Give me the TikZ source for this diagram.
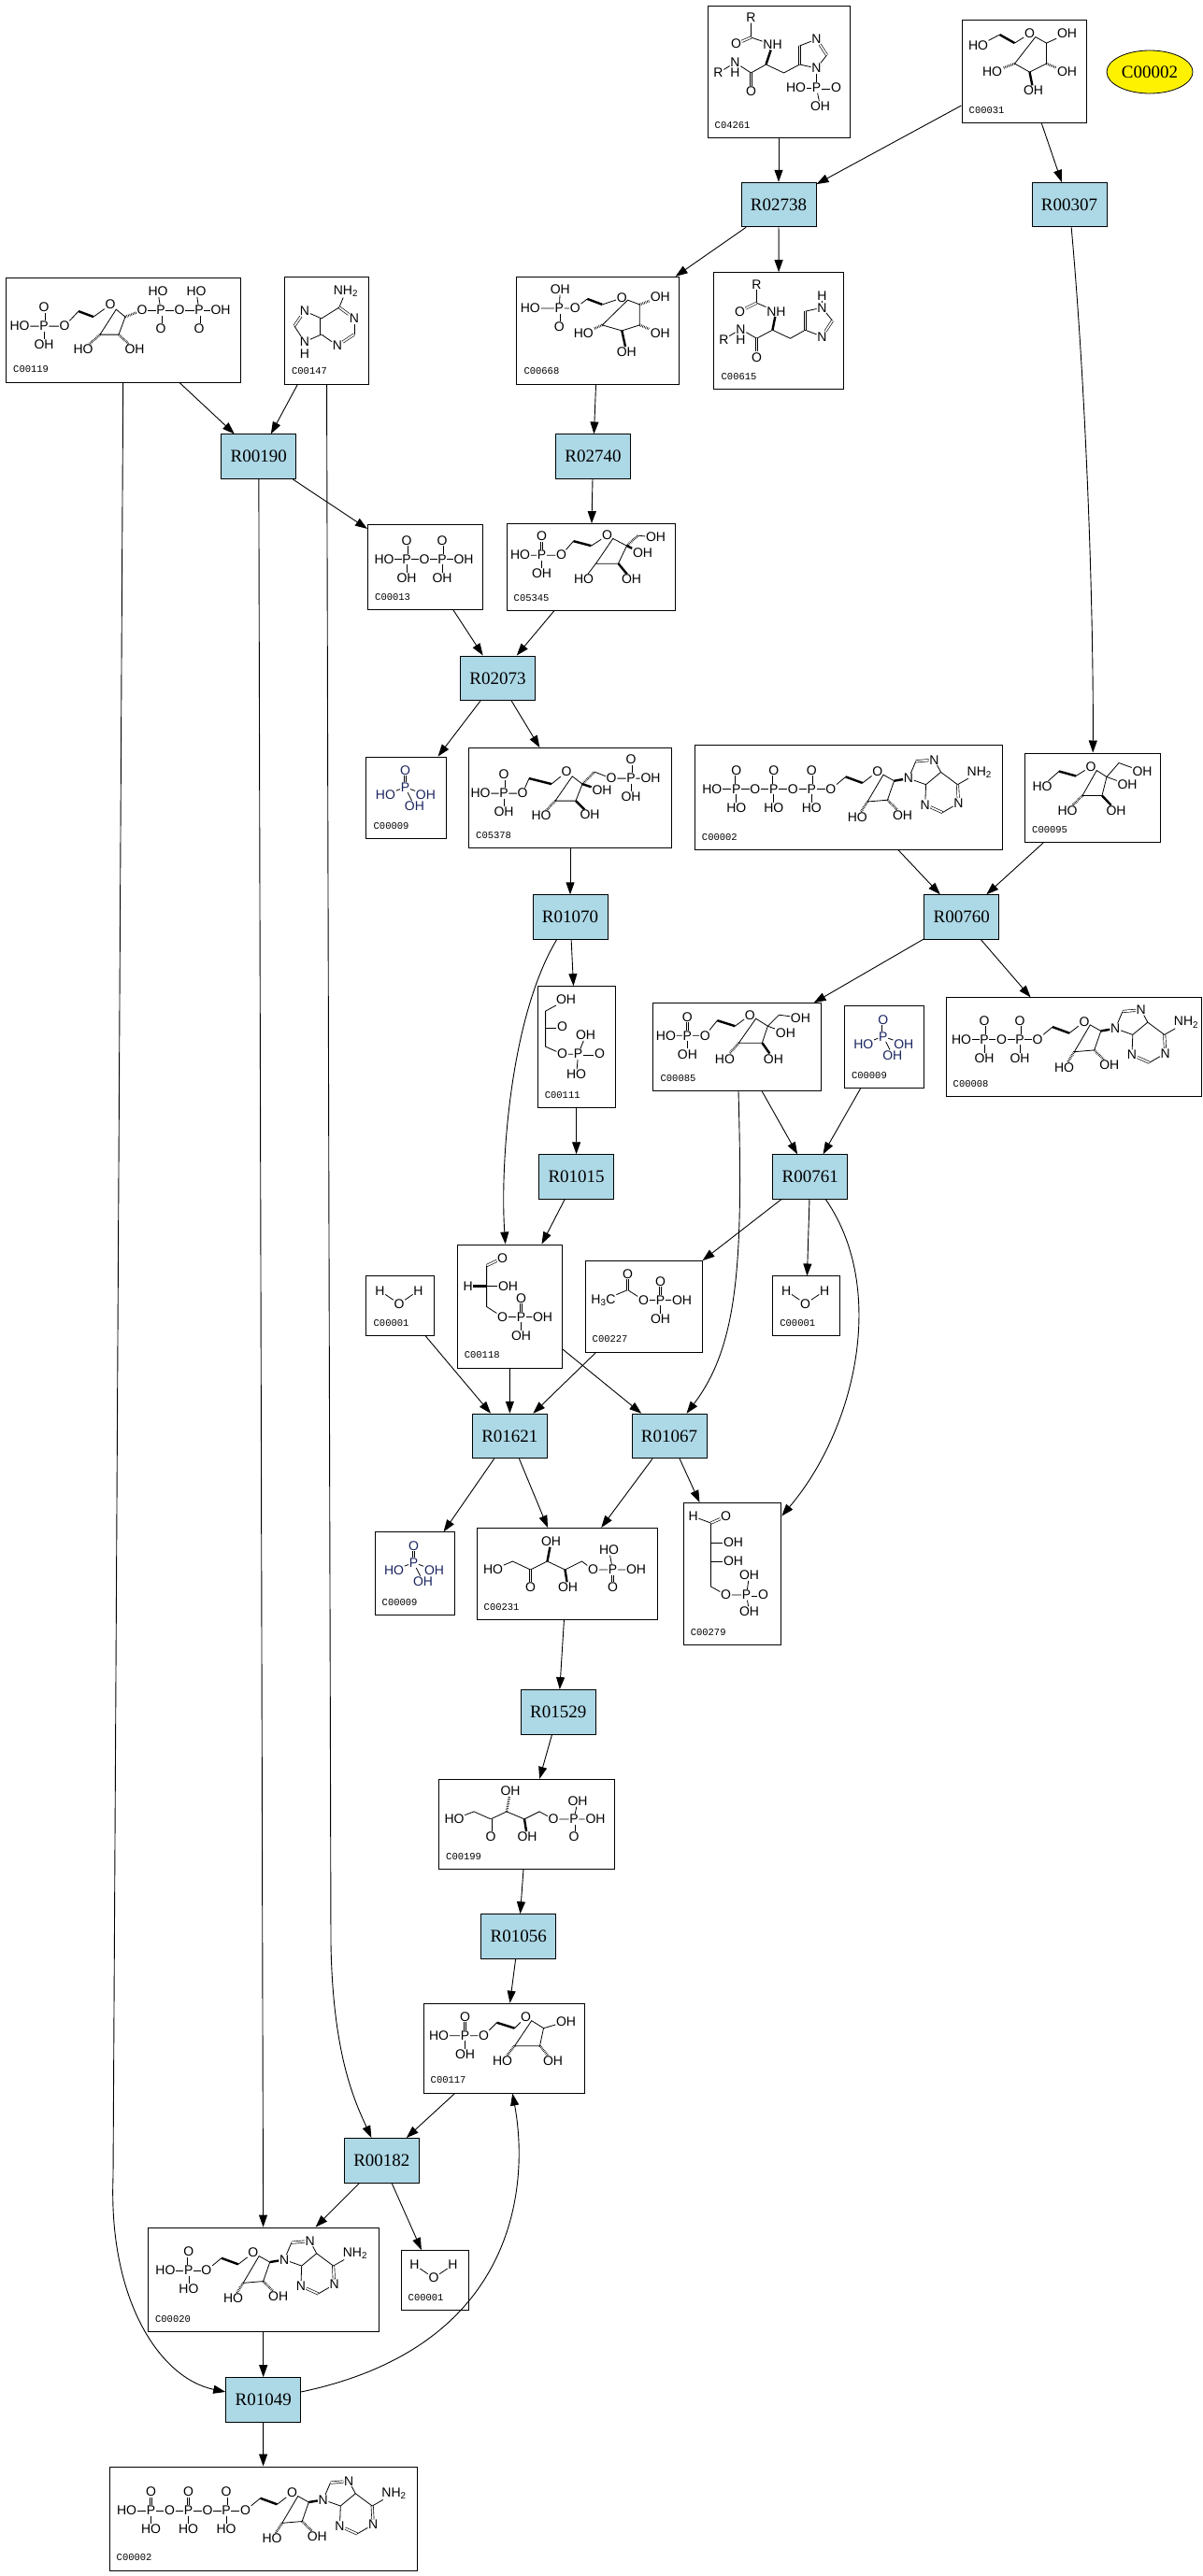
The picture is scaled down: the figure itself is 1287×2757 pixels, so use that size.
\documentclass[tikz,border=0pt]{standalone}
\usepackage{fontspec}
\setmainfont{Liberation Serif}
\setsansfont{Liberation Sans}
\setmonofont{Liberation Mono}
\usepackage{tikz}
\usetikzlibrary{positioning}
\usetikzlibrary{shapes,arrows.meta}
\definecolor{rxnblue}{RGB}{173,216,230}
\definecolor{navy}{RGB}{25,35,95}
\tikzstyle{rxn} = [rectangle, draw, fill=rxnblue, line width=1pt,
    minimum width=80pt, minimum height=47.5pt, inner sep=0pt, font=\fontsize{19}{19}\selectfont]
\tikzstyle{cpd} = [rectangle, draw, fill=white, line width=1pt, inner sep=0pt]
\tikzstyle{cid} = [anchor=west, inner sep=0pt, font=\ttfamily\fontsize{10.5}{10.5}\selectfont]
\tikzstyle{atm} = [inner sep=0.4pt, font=\sffamily\fontsize{14}{14}\selectfont]
\tikzstyle{mol} = [line width=0.8pt]
\tikzstyle{dbl} = [double, double distance=1.7pt, line width=0.65pt]
\tikzstyle{wedge} = [line width=2.4pt]
\tikzstyle{hash} = [line width=2.6pt, dash pattern=on 0.6pt off 1.1pt]
\tikzstyle{line} = [draw, line width=0.9pt, -{Triangle[length=13pt,width=9pt]}]
% compound box with its id
\newcommand\Cpd[6]{\node [cpd, minimum width=#4pt, minimum height=#5pt] (#1) at (#2,#3) {};
  \node [cid] at ([shift={(8pt,14pt)}]#1.south west) {#6};}
% P with =O above and a group below
\newcommand\Ph[4]{\path (#2,#3) node[atm] (#1) {P} (#2,#3-20) node[atm] (#1u) {O}
  (#2,#3+20) node[atm] (#1d) {#4};
  \draw[dbl] (#1) -- (#1u); \draw (#1) -- (#1d);}
% ribose + adenine from the 5'-O
\newcommand\Nuc[2]{\begin{scope}[shift={(#1,#2)}]
  \path (0,0) node[atm] (o5) {O} (50,-19) node[atm] (or) {O}
    (28.6,30) node[atm] (h3) {HO} (76.8,27.5) node[atm] (h2) {OH}
    (83.2,-11.6) node[atm] (n9) {N} (110.7,-31.5) node[atm] (n7) {N}
    (101,16.5) node[atm] (n3) {N} (136.7,14.9) node[atm] (n1) {N}
    (159,-18.3) node[atm] (nh) {NH\textsubscript{2}};
  \draw (o5) -- (16,-13.3); \draw[wedge] (16,-13.3) -- (34,-6.7);
  \draw (34,-6.7) -- (or) -- (67.8,-9) -- (60.7,11.5) -- (39.3,13.3) -- cycle;
  \draw[hash] (39.3,13.3) -- (h3); \draw[hash] (60.7,11.5) -- (h2);
  \draw[wedge] (67.8,-9) -- (n9);
  \draw (n9) -- (91,-29.9); \draw[dbl] (91,-29.9) -- (n7);
  \draw (n7) -- (117.8,-18.3) -- (101.8,-5) -- (n9);
  \draw (101.8,-5) -- (n3); \draw[dbl] (n3) -- (119.6,24.9); \draw (119.6,24.9) -- (n1);
  \draw[dbl] (n1) -- (135.7,-5); \draw (135.7,-5) -- (117.8,-18.3); \draw (135.7,-5) -- (nh);
  \end{scope}}
\newcommand\Atp{\Ph{p1}{45}{47.5}{HO} \Ph{p2}{85}{47.5}{HO} \Ph{p3}{125.5}{47.5}{HO}
  \path (19,47.5) node[atm] (a1) {HO} (65,47.5) node[atm] (a2) {O} (105.5,47.5) node[atm] (a3) {O};
  \Nuc{146}{47.5}
  \draw (a1) -- (p1) -- (a2) -- (p2) -- (a3) -- (p3) -- (o5);}
\newcommand\Pho{\path (42,15) node[atm, text=navy] (a1) {O} (42,33) node[atm, text=navy] (a2) {P}
  (21,41) node[atm, text=navy] (a3) {HO} (64,41) node[atm, text=navy] (a4) {OH}
  (52,53) node[atm, text=navy] (a5) {OH};
  \draw[dbl] (a2) -- (a1); \draw (a3) -- (a2) -- (a4); \draw (a2) -- (a5);}
\newcommand\Wat{\path (15,16) node[atm] (a1) {H} (35.5,30) node[atm] (a2) {O} (56,16) node[atm] (a3) {H};
  \draw (a1) -- (a2) -- (a3);}

\begin{document}
\begin{tikzpicture}[x=1pt, y=-1pt, node distance=3cm, auto]
  \useasboundingbox (0,0) rectangle (1287,2757);
  % compounds
  \Cpd{c04261}{833}{77}{152}{141}{C04261}
  \Cpd{c00031}{1095.5}{76.6}{133}{110}{C00031}
  \Cpd{c00119}{132}{353.3}{251}{111.4}{C00119}
  \Cpd{c00147}{349.4}{353.7}{90}{114.6}{C00147}
  \Cpd{c00668}{639.8}{353.7}{174}{114.6}{C00668}
  \Cpd{c00615}{833.2}{354.2}{138.5}{125}{C00615}
  \Cpd{c00013}{455}{607}{123}{90.4}{C00013}
  \Cpd{c05345}{632}{607}{180}{92.7}{C05345}
  \Cpd{c00009a}{434.8}{853.8}{85.7}{87.5}{C00009}
  \Cpd{c05378}{610}{854}{217}{106.8}{C05378}
  \Cpd{c00002a}{908}{853.5}{329.5}{111.6}{C00002}
  \Cpd{c00095}{1169}{853.8}{145}{95.6}{C00095}
  \Cpd{c00111}{616.6}{1120.5}{83}{129.7}{C00111}
  \Cpd{c00085}{788.7}{1120.7}{179.6}{94}{C00085}
  \Cpd{c00009b}{945.8}{1120.7}{85}{88}{C00009}
  \Cpd{c00008}{1148.5}{1120.7}{273}{105.6}{C00008}
  \Cpd{c00118}{545.3}{1398}{112.4}{132}{C00118}
  \Cpd{c00001a}{428.2}{1397.7}{72.5}{63.5}{C00001}
  \Cpd{c00227}{688.5}{1398}{125}{98}{C00227}
  \Cpd{c00001b}{862.5}{1397.7}{71.7}{63.5}{C00001}
  \Cpd{c00009c}{443.5}{1684.4}{85}{89}{C00009}
  \Cpd{c00231}{606.5}{1684.5}{193}{98}{C00231}
  \Cpd{c00279}{783.4}{1684.5}{104.7}{152}{C00279}
  \Cpd{c00199}{563.5}{1952.3}{188}{95.8}{C00199}
  \Cpd{c00117}{539.2}{2192.1}{172.4}{95.8}{C00117}
  \Cpd{c00020}{281.7}{2439.9}{246.6}{111.7}{C00020}
  \Cpd{c00001c}{465.3}{2440.5}{72.6}{64}{C00001}
  \Cpd{c00002b}{281.5}{2695.5}{329}{111}{C00002}
  \node [draw, ellipse, fill=yellow, line width=0.8pt, minimum width=92pt, minimum height=46pt,
    inner sep=0pt, font=\fontsize{19}{19}\selectfont] (C00002) at (1230,77) {C00002};
  % reactions
  \node [rxn, below of=c04261, node distance=142pt] (R02738) {R02738};
  \node [rxn] (R00307) at (1144,219.2) {R00307};
  \node [rxn] (R00190) at (276.8,488.7) {R00190};
  \node [rxn] (R02740) at (634.5,488.7) {R02740};
  \node [rxn] (R02073) at (532.5,725.8) {R02073};
  \node [rxn] (R01070) at (610,981.6) {R01070};
  \node [rxn] (R00760) at (1028.7,981.6) {R00760};
  \node [rxn, below of=c00111, node distance=139pt] (R01015) {R01015};
  \node [rxn] (R00761) at (866.7,1259.6) {R00761};
  \node [rxn] (R01621) at (545.4,1537) {R01621};
  \node [rxn] (R01067) at (716,1537) {R01067};
  \node [rxn] (R01529) at (597.3,1832.3) {R01529};
  \node [rxn] (R01056) at (554.8,2072.5) {R01056};
  \node [rxn] (R00182) at (408.4,2312.3) {R00182};
  \node [rxn, below of=c00020, node distance=128.5pt] (R01049) {R01049};
  % structures
  \begin{scope}[mol, shift={(c04261.north west)}]
    \path (47,13) node[atm] (a1) {R} (31,41) node[atm] (a2) {O} (70,42) node[atm] (a3) {NH}
      (30,61) node[atm] (a4) {N} (30,72) node[atm] (a5) {H} (12,72) node[atm] (a6) {R}
      (47,92) node[atm] (a7) {O} (117,36) node[atm] (a8) {N} (117,67) node[atm] (a9) {N}
      (117,88) node[atm] (a10) {P} (95,88) node[atm] (a11) {HO} (138,88) node[atm] (a12) {O}
      (121,108) node[atm] (a13) {OH};
    \draw (a1) -- (47,34) -- (a3); \draw[dbl] (47,34) -- (a2);
    \draw[wedge] (a3) -- (63,63);
    \draw (63,63) -- (82,72) -- (99,63) -- (a9) -- (128,53);
    \draw[dbl] (128,53) -- (a8); \draw (a8) -- (99,43); \draw[dbl] (99,43) -- (99,63);
    \draw (63,63) -- (47,72) -- (a4) -- (a6); \draw[dbl] (47,72) -- (a7);
    \draw (a9) -- (a10) -- (a11); \draw[dbl] (a10) -- (a12); \draw (a10) -- (a13);
  \end{scope}
  \begin{scope}[mol, shift={(c00615.north west)}]
    \path (46,13) node[atm] (a1) {R} (28,42) node[atm] (a2) {O} (67,42) node[atm] (a3) {NH}
      (29,61) node[atm] (a4) {N} (29,72) node[atm] (a5) {H} (11,72) node[atm] (a6) {R}
      (46,91) node[atm] (a7) {O} (116,38) node[atm] (a8) {N} (116,25) node[atm] (a9) {H}
      (116,69) node[atm] (a10) {N};
    \draw (a1) -- (46,33) -- (a3); \draw[dbl] (46,33) -- (a2);
    \draw[wedge] (a3) -- (63,62);
    \draw (63,62) -- (82,71) -- (98,62) -- (a10); \draw[dbl] (a10) -- (127,52);
    \draw (127,52) -- (a8) -- (98,42); \draw[dbl] (98,42) -- (98,62); \draw (a8) -- (a9);
    \draw (63,62) -- (46,71) -- (a4) -- (a6); \draw[dbl] (46,71) -- (a7);
  \end{scope}
  \begin{scope}[mol, shift={(c00031.north west)}]
    \path (73,15) node[atm] (a1) {O} (18,28) node[atm] (a2) {HO} (113,15) node[atm] (a3) {OH}
      (33,56) node[atm] (a4) {HO} (113,56) node[atm] (a5) {OH} (77,76) node[atm] (a6) {OH};
    \draw (57,25) -- (a1) -- (91,25) -- (91,47) -- (73,56) -- (57,47) -- cycle;
    \draw[wedge] (57,25) -- (41,16); \draw (41,16) -- (a2); \draw (91,25) -- (a3);
    \draw[hash] (57,47) -- (a4); \draw[hash] (91,47) -- (a5); \draw[wedge] (73,56) -- (a6);
  \end{scope}
  \begin{scope}[mol, shift={(c00668.north west)}]
    \path (46,34) node[atm] (a1) {P} (47,14) node[atm] (a2) {OH} (15,34) node[atm] (a3) {HO}
      (46,54) node[atm] (a4) {O} (63,34) node[atm] (a5) {O} (113,23) node[atm] (a6) {O}
      (154,22) node[atm] (a7) {OH} (72,61) node[atm] (a8) {HO} (154,61) node[atm] (a9) {OH}
      (118,81) node[atm] (a10) {OH};
    \draw (a3) -- (a1) -- (a5) -- (76,24); \draw[wedge] (76,24) -- (92,30);
    \draw (a1) -- (a2); \draw[dbl] (a1) -- (a4);
    \draw (92,30) -- (a6) -- (132,30) -- (132,52) -- (113,58) -- (92,52) -- cycle;
    \draw[hash] (132,30) -- (a7); \draw[hash] (92,52) -- (a8); \draw[hash] (132,52) -- (a9);
    \draw[wedge] (113,58) -- (a10);
  \end{scope}
  \begin{scope}[mol, shift={(c00119.north west)}]
    \Ph{p1}{41}{52}{OH}
    \path (15,52) node[atm] (a1) {HO} (63,52) node[atm] (a2) {O} (112,29) node[atm] (a3) {O}
      (83,77) node[atm] (a4) {HO} (138,77) node[atm] (a5) {OH} (146,35) node[atm] (a6) {O}
      (166,35) node[atm] (b1) {P} (163,15) node[atm] (b2) {HO} (166,55) node[atm] (b3) {O}
      (186,35) node[atm] (a7) {O} (207,35) node[atm] (c1) {P} (204,15) node[atm] (c2) {HO}
      (207,55) node[atm] (c3) {O} (230,35) node[atm] (a8) {OH};
    \draw (a1) -- (p1) -- (a2) -- (78,36); \draw[wedge] (78,36) -- (94,42);
    \draw (94,42) -- (a3) -- (128,42) -- (121,61) -- (101,61) -- cycle;
    \draw[hash] (101,61) -- (a4); \draw[hash] (121,61) -- (a5); \draw[hash] (128,42) -- (a6);
    \draw (a6) -- (b1) -- (a7) -- (c1) -- (a8); \draw (b1) -- (b2); \draw (c1) -- (c2);
    \draw[dbl] (b1) -- (b3); \draw[dbl] (c1) -- (c3);
  \end{scope}
  \begin{scope}[mol, shift={(c00147.north west)}]
    \path (66,16) node[atm] (a1) {NH\textsubscript{2}} (75,45) node[atm] (a2) {N}
      (57,74) node[atm] (a3) {N} (22,37) node[atm] (a4) {N} (22,70) node[atm] (a5) {N}
      (22,83) node[atm] (a6) {H};
    \draw (a1) -- (59,33); \draw[dbl] (59,33) -- (a2); \draw (a2) -- (75,62);
    \draw[dbl] (75,62) -- (a3); \draw (a3) -- (40,62); \draw[dbl] (40,62) -- (40,45);
    \draw (40,45) -- (59,33); \draw (40,45) -- (a4); \draw[dbl] (a4) -- (11,53);
    \draw (11,53) -- (a5) -- (40,62);
  \end{scope}
  \begin{scope}[mol, shift={(c00013.north west)}]
    \Ph{p1}{42}{37}{OH} \Ph{p2}{80}{37}{OH}
    \path (18,37) node[atm] (a1) {HO} (61,37) node[atm] (a2) {O} (103,37) node[atm] (a3) {OH};
    \draw (a1) -- (p1) -- (a2) -- (p2) -- (a3);
  \end{scope}
  \begin{scope}[mol, shift={(c05345.north west)}]
    \Ph{p1}{38}{34}{OH}
    \path (15,34) node[atm] (a1) {HO} (59,34) node[atm] (a2) {O} (108,13) node[atm] (a3) {O}
      (160,15) node[atm] (a4) {OH} (146,32) node[atm] (a5) {OH} (83,60) node[atm] (a6) {HO}
      (134,60) node[atm] (a7) {OH};
    \draw (a1) -- (p1) -- (a2) -- (72,19); \draw[wedge] (72,19) -- (91,24);
    \draw (91,24) -- (a3) -- (129,24) -- (120,43) -- (96,43) -- cycle;
    \draw[hash] (129,24) -- (141,13); \draw (141,13) -- (a4); \draw[wedge] (129,24) -- (a5);
    \draw (96,43) -- (a6); \draw[wedge] (120,43) -- (a7);
  \end{scope}
  \begin{scope}[mol, shift={(c00009a.north west)}] \Pho \end{scope}
  \begin{scope}[mol, shift={(c00009b.north west)}] \Pho \end{scope}
  \begin{scope}[mol, shift={(c00009c.north west)}] \Pho \end{scope}
  \begin{scope}[mol, shift={(c05378.north west)}]
    \Ph{p1}{38}{49}{OH} \Ph{p2}{174}{33}{OH}
    \path (13,49) node[atm] (a1) {HO} (58,49) node[atm] (a2) {O} (105,26) node[atm] (a3) {O}
      (143,46) node[atm] (a4) {OH} (78,73) node[atm] (a5) {HO} (130,72) node[atm] (a6) {OH}
      (153,33) node[atm] (a7) {O} (195,33) node[atm] (a8) {OH};
    \draw (a1) -- (p1) -- (a2) -- (65,33); \draw[wedge] (65,33) -- (89,39);
    \draw (89,39) -- (a3) -- (122,39) -- (115,57) -- (93,57) -- cycle;
    \draw[hash] (122,39) -- (135,26); \draw (135,26) -- (a7) -- (p2) -- (a8);
    \draw[wedge] (122,39) -- (a4); \draw[hash] (93,57) -- (a5); \draw[wedge] (115,57) -- (a6);
  \end{scope}
  \begin{scope}[mol, shift={(c00002a.north west)}] \Atp \end{scope}
  \begin{scope}[mol, shift={(c00002b.north west)}] \Atp \end{scope}
  \begin{scope}[mol, shift={(c00095.north west)}]
    \path (19,36) node[atm] (a1) {HO} (71,15) node[atm] (a2) {O} (126,20) node[atm] (a3) {OH}
      (110,34) node[atm] (a4) {OH} (46,62) node[atm] (a5) {HO} (98,62) node[atm] (a6) {OH};
    \draw (a1) -- (37,20); \draw[wedge] (37,20) -- (55,25);
    \draw (55,25) -- (a2) -- (88,26) -- (83,46) -- (62,46) -- cycle;
    \draw (88,26) -- (101,11) -- (a3); \draw (88,26) -- (a4);
    \draw[hash] (62,46) -- (a5); \draw[wedge] (83,46) -- (a6);
  \end{scope}
  \begin{scope}[mol, shift={(c00111.north west)}]
    \path (31,15) node[atm] (a1) {OH} (27,44) node[atm] (a2) {O} (27,73) node[atm] (a3) {O}
      (44,73) node[atm] (a4) {P} (52,53) node[atm] (a5) {OH} (67,73) node[atm] (a6) {O}
      (42,95) node[atm] (a7) {HO};
    \draw (a1) -- (9,27) -- (9,44) -- (9,65) -- (a3) -- (a4) -- (a7); \draw (a4) -- (a5);
    \draw[dbl] (9,44) -- (a2); \draw[dbl] (a4) -- (a6);
  \end{scope}
  \begin{scope}[mol, shift={(c00085.north west)}]
    \Ph{p1}{37}{35}{OH}
    \path (14,35) node[atm] (a1) {HO} (56,35) node[atm] (a2) {O} (104,13) node[atm] (a3) {O}
      (158,16) node[atm] (a4) {OH} (142,32) node[atm] (a5) {OH} (77,60) node[atm] (a6) {HO}
      (129,60) node[atm] (a7) {OH};
    \draw (a1) -- (p1) -- (a2) -- (69,19); \draw[wedge] (69,19) -- (88,25);
    \draw (88,25) -- (a3) -- (123,25) -- (117,43) -- (92,43) -- cycle;
    \draw (123,25) -- (135,13) -- (a4); \draw (123,25) -- (a5);
    \draw[hash] (92,43) -- (a6); \draw[wedge] (117,43) -- (a7);
  \end{scope}
  \begin{scope}[mol, shift={(c00008.north west)}]
    \Ph{p1}{41.5}{45}{OH} \Ph{p2}{79.5}{45}{OH}
    \path (17,45) node[atm] (a1) {HO} (60,45) node[atm] (a2) {O};
    \Nuc{98.5}{45}
    \draw (a1) -- (p1) -- (a2) -- (p2) -- (o5);
  \end{scope}
  \begin{scope}[mol, shift={(c00118.north west)}]
    \Ph{p1}{69}{78}{OH}
    \path (49,15) node[atm] (a1) {O} (12,45) node[atm] (a2) {H} (55,45) node[atm] (a3) {OH}
      (49,78) node[atm] (a4) {O} (92,78) node[atm] (a5) {OH};
    \draw[dbl] (a1) -- (32,23); \draw (32,23) -- (32,45) -- (32,67) -- (a4) -- (p1) -- (a5);
    \draw[wedge] (32,45) -- (a2); \draw (32,45) -- (a3);
  \end{scope}
  \begin{scope}[mol, shift={(c00001a.north west)}] \Wat \end{scope}
  \begin{scope}[mol, shift={(c00001b.north west)}] \Wat \end{scope}
  \begin{scope}[mol, shift={(c00001c.north west)}] \Wat \end{scope}
  \begin{scope}[mol, shift={(c00227.north west)}]
    \Ph{p1}{81}{43}{OH}
    \path (20,43) node[atm] (a1) {H\textsubscript{3}C} (46,15) node[atm] (a2) {O}
      (63,43) node[atm] (a3) {O} (104,43) node[atm] (a4) {OH};
    \draw (a1) -- (46,32) -- (a3) -- (p1) -- (a4); \draw[dbl] (46,32) -- (a2);
  \end{scope}
  \begin{scope}[mol, shift={(c00231.north west)}]
    \path (18,45) node[atm] (a1) {HO} (58,64) node[atm] (a2) {O} (80,15) node[atm] (a3) {OH}
      (98,64) node[atm] (a4) {OH} (125,45) node[atm] (a5) {O} (146,45) node[atm] (a6) {P}
      (142,24) node[atm] (a7) {HO} (171,45) node[atm] (a8) {OH} (146,64) node[atm] (a9) {O};
    \draw (a1) -- (39,36) -- (58,45) -- (76,36) -- (95,45) -- (113,36) -- (a5) -- (a6) -- (a8);
    \draw[dbl] (58,45) -- (a2); \draw[wedge] (76,36) -- (a3); \draw[wedge] (95,45) -- (a4);
    \draw (a6) -- (a7); \draw[dbl] (a6) -- (a9);
  \end{scope}
  \begin{scope}[mol, shift={(c00279.north west)}]
    \path (11,15) node[atm] (a1) {H} (46,15) node[atm] (a2) {O} (54,43) node[atm] (a3) {OH}
      (54,63) node[atm] (a4) {OH} (46,99) node[atm] (a5) {O} (68,99) node[atm] (a6) {P}
      (71,78) node[atm] (a7) {OH} (86,99) node[atm] (a8) {O} (71,117) node[atm] (a9) {OH};
    \draw (a1) -- (30,22); \draw[dbl] (30,22) -- (a2);
    \draw (30,22) -- (30,43) -- (30,63) -- (30,90) -- (a5) -- (a6) -- (a7);
    \draw (30,43) -- (a3); \draw (30,63) -- (a4); \draw[dbl] (a6) -- (a8); \draw (a6) -- (a9);
  \end{scope}
  \begin{scope}[mol, shift={(c00199.north west)}]
    \path (17,43) node[atm] (a1) {HO} (56,62) node[atm] (a2) {O} (77,13) node[atm] (a3) {OH}
      (95,62) node[atm] (a4) {OH} (123,43) node[atm] (a5) {O} (145,43) node[atm] (a6) {P}
      (149,24) node[atm] (a7) {OH} (168,43) node[atm] (a8) {OH} (145,62) node[atm] (a9) {O};
    \draw (a1) -- (38,35) -- (56,43) -- (73,35) -- (92,43) -- (108,35) -- (a5) -- (a6) -- (a8);
    \draw[dbl] (56,43) -- (a2); \draw[hash] (73,35) -- (a3); \draw[wedge] (92,43) -- (a4);
    \draw (a6) -- (a7); \draw[dbl] (a6) -- (a9);
  \end{scope}
  \begin{scope}[mol, shift={(c00117.north west)}]
    \Ph{p1}{45}{35}{OH}
    \path (17,35) node[atm] (a1) {HO} (65,35) node[atm] (a2) {O} (110,15) node[atm] (a3) {O}
      (153,20) node[atm] (a4) {OH} (85,62) node[atm] (a5) {HO} (139,62) node[atm] (a6) {OH};
    \draw (a1) -- (p1) -- (a2) -- (79,21); \draw[wedge] (79,21) -- (98,27);
    \draw (98,27) -- (a3) -- (129,27) -- (125,46) -- (98,46) -- cycle;
    \draw (129,27) -- (a4); \draw[hash] (98,46) -- (a5); \draw[hash] (125,46) -- (a6);
  \end{scope}
  \begin{scope}[mol, shift={(c00020.north west)}]
    \Ph{p1}{44}{46.5}{HO}
    \path (19,46.5) node[atm] (a1) {HO};
    \Nuc{63}{46.5}
    \draw (a1) -- (p1) -- (o5);
  \end{scope}
  % edges
  \path [line] (c04261) -- (R02738);
  \path [line] (c00031) -- (R02738);
  \path [line] (c00031) -- (R00307);
  \path [line] (R02738) -- (c00668);
  \path [line] (R02738) -- (c00615);
  \path [line] (R00307) .. controls (1162,420) and (1170,650) .. (c00095);
  \path [line] (c00119) -- (R00190);
  \path [line] (c00147) -- (R00190);
  \path [line] (c00119) -- (121,2330) .. controls (116,2460) and (170,2545) .. (R01049);
  \path [line] (c00147) -- (354,2080) .. controls (356,2200) and (380,2250) .. (R00182);
  \path [line] (R00190) -- (c00020);
  \path [line] (R00190) -- (c00013);
  \path [line] (c00668) -- (R02740);
  \path [line] (R02740) -- (c05345);
  \path [line] (c00013) -- (R02073);
  \path [line] (c05345) -- (R02073);
  \path [line] (R02073) -- (c00009a);
  \path [line] (R02073) -- (c05378);
  \path [line] (c05378) -- (R01070);
  \path [line] (c00002a) -- (R00760);
  \path [line] (c00095) -- (R00760);
  \path [line] (R01070) -- (c00111);
  \path [line] (R01070) .. controls (545,1090) and (535,1250) .. (c00118);
  \path [line] (R00760) -- (c00085);
  \path [line] (R00760) -- (c00008);
  \path [line] (c00111) -- (R01015);
  \path [line] (c00085) -- (R00761);
  \path [line] (c00009b) -- (R00761);
  \path [line] (c00085) .. controls (795,1350) and (790,1440) .. (R01067);
  \path [line] (R01015) -- (c00118);
  \path [line] (R00761) -- (c00227);
  \path [line] (R00761) -- (c00001b);
  \path [line] (R00761) .. controls (950,1380) and (915,1530) .. (c00279);
  \path [line] (c00001a) -- (R01621);
  \path [line] (c00118) -- (R01621);
  \path [line] (c00227) -- (R01621);
  \path [line] (c00118) -- (R01067);
  \path [line] (R01621) -- (c00009c);
  \path [line] (R01621) -- (c00231);
  \path [line] (R01067) -- (c00231);
  \path [line] (R01067) -- (c00279);
  \path [line] (c00231) -- (R01529);
  \path [line] (R01529) -- (c00199);
  \path [line] (c00199) -- (R01056);
  \path [line] (R01056) -- (c00117);
  \path [line] (c00117) -- (R00182);
  \path [line] (R00182) -- (c00020);
  \path [line] (R00182) -- (c00001c);
  \path [line] (c00020) -- (R01049);
  \path [line] (R01049) -- (c00002b);
  \path [line] (R01049) .. controls (560,2510) and (565,2330) .. (c00117);
\end{tikzpicture}
\end{document}
